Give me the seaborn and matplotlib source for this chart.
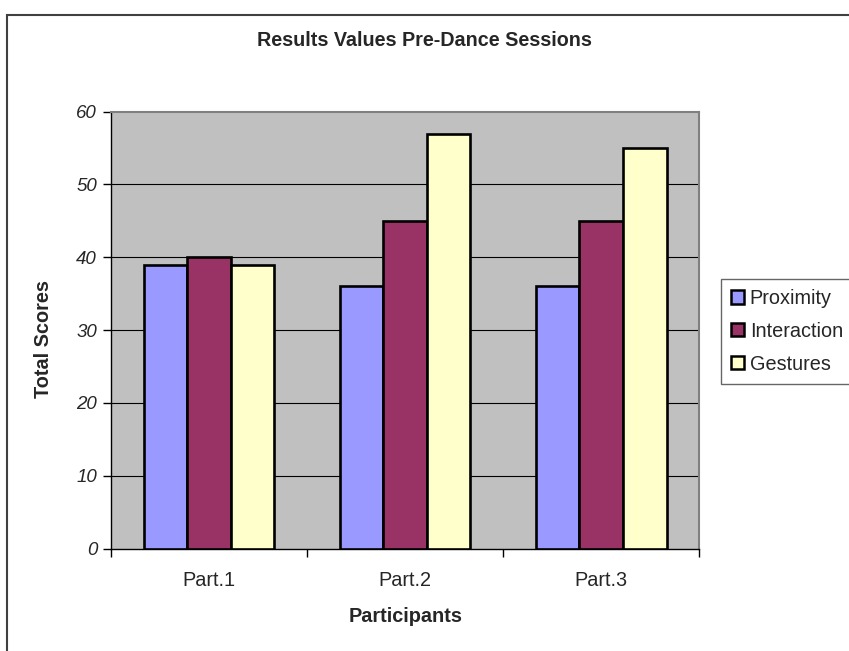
import matplotlib
matplotlib.use("Agg")
import matplotlib.pyplot as plt
from matplotlib.patches import Patch, Rectangle
import seaborn as sns
import pandas as pd

# Scores per participant and measure
participants = ["Part.1", "Part.2", "Part.3"]
measures = ["Proximity", "Interaction", "Gestures"]
proximity = [39, 36, 36]
interaction = [40, 45, 45]
gestures = [39, 57, 55]
colors = ["#9999FF", "#993366", "#FFFFCC"]
yticks = [0, 10, 20, 30, 40, 50, 60]

df = pd.DataFrame({
    "Participant": participants * 3,
    "Measure": [m for m in measures for _ in participants],
    "Score": proximity + interaction + gestures,
})

sns.set_theme(style="white")
plt.rcParams["font.family"] = ["Liberation Sans", "DejaVu Sans"]

W, H = 849, 651
fig = plt.figure(figsize=(W / 100, H / 100), dpi=100)
x0, x1, y0, y1 = 111, 699.3, 111.7, 548.5
ax = fig.add_axes([x0 / W, 1 - y1 / H, (x1 - x0) / W, (y1 - y0) / H])
ax.set_facecolor("#C0C0C0")

sns.barplot(data=df, x="Participant", y="Score", hue="Measure",
            hue_order=measures, order=participants, palette=colors,
            width=0.666, edgecolor="black", linewidth=1.9,
            saturation=1, errorbar=None, legend=False, ax=ax, zorder=3)

ax.set_ylim(0, 60)
ax.set_xlim(-0.5, 2.5)
ax.set_yticks(yticks)
ax.set_yticklabels([str(v) for v in yticks], fontsize=13.5, style="italic")
for v in yticks[1:-1]:
    ax.axhline(v, color="black", lw=0.8, zorder=1)

ax.set_xticks(range(len(participants)))
ax.set_xticklabels(participants, fontsize=14.3)
ax.set_xticks([-0.5, 0.5, 1.5, 2.5], minor=True)
ax.tick_params(axis="x", which="major", length=0, pad=16.5)
ax.tick_params(axis="x", which="minor", length=6, width=1, color="black", direction="out", bottom=True)
ax.tick_params(axis="y", length=6, width=1, color="black", direction="out", left=True, pad=4)

for side in ("left", "bottom"):
    ax.spines[side].set_color("black")
    ax.spines[side].set_linewidth(1)
for side in ("top", "right"):
    ax.spines[side].set_color("#808080")
    ax.spines[side].set_linewidth(1.5)

ax.set_xlabel("Participants", fontsize=14.3, fontweight="bold", va="center")
ax.xaxis.set_label_coords(0.5, (y1 - 616.7) / (y1 - y0))
ax.set_ylabel("Total Scores", fontsize=14.3, fontweight="bold", va="center")
ax.yaxis.set_label_coords((43 - x0) / (x1 - x0), 0.48)

fig.text(424.5 / W, 1 - 40.7 / H, "Results Values Pre-Dance Sessions",
         ha="center", va="center", fontsize=14.2, fontweight="bold")

handles = [Patch(facecolor=c, edgecolor="black", linewidth=1.8) for c in colors]
leg = fig.legend(handles, measures, loc="upper left",
                 bbox_to_anchor=(721 / W, 1 - 279 / H),
                 fontsize=14.3, frameon=True, fancybox=False,
                 handlelength=0.65, handleheight=0.65, handletextpad=0.3,
                 labelspacing=0.7, borderpad=0.5, borderaxespad=0)
leg.get_frame().set_edgecolor("#404040")
leg.get_frame().set_linewidth(1)

# Chart border, running off the right and bottom edges
fig.patches.append(Rectangle((6.7 / W, -0.1), 1.2, 1 - 15 / H + 0.1,
                             transform=fig.transFigure, fill=False,
                             edgecolor="#404040", linewidth=1.5))

fig.savefig("out.png", dpi=100)
